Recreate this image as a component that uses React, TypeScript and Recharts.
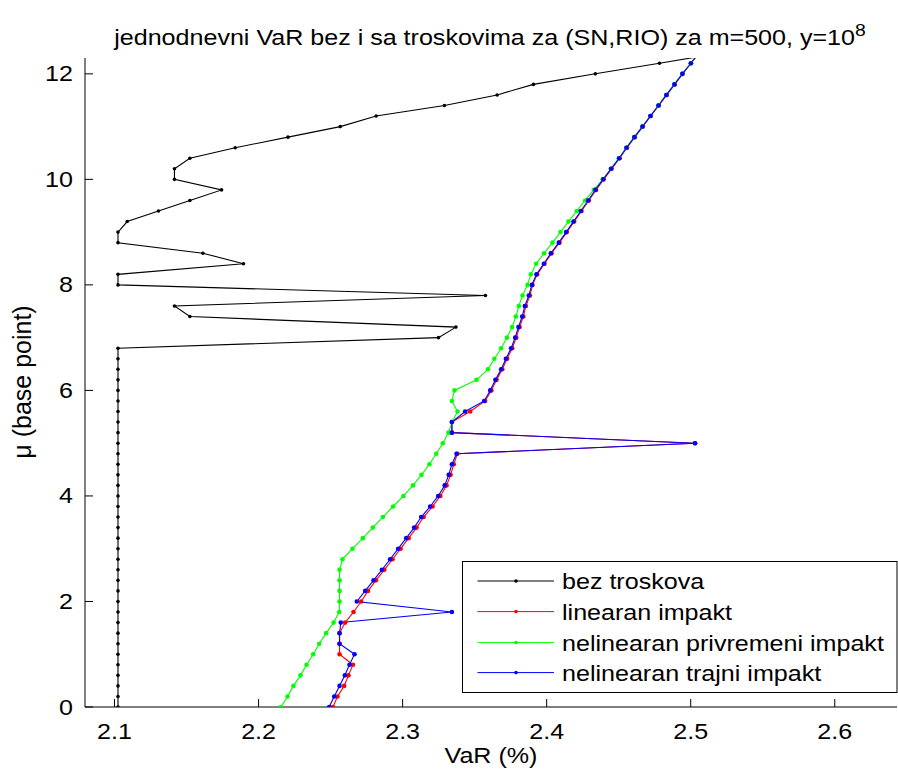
import { LineChart, Line, XAxis, YAxis, Legend } from 'recharts';

const MU = [
  0, 0.2, 0.4, 0.6, 0.8, 1, 1.2, 1.4, 1.6, 1.8, 2, 2.2, 2.4, 2.6, 2.8, 3, 3.2, 3.4, 3.6, 3.8,
  4, 4.2, 4.4, 4.6, 4.8, 5, 5.2, 5.4, 5.6, 5.8, 6, 6.2, 6.4, 6.6, 6.8, 7, 7.2, 7.4, 7.6, 7.8,
  8, 8.2, 8.4, 8.6, 8.8, 9, 9.2, 9.4, 9.6, 9.8, 10, 10.2, 10.4, 10.6, 10.8, 11, 11.2, 11.4, 11.6, 11.8,
  12, 12.2, 12.4,
];

const BEZ_TROSKOVA = [
  2.1024, 2.1024, 2.1024, 2.1024, 2.1024, 2.1024, 2.1024, 2.1024, 2.1024, 2.1024,
  2.1024, 2.1024, 2.1024, 2.1024, 2.1024, 2.1024, 2.1024, 2.1024, 2.1024, 2.1024,
  2.1024, 2.1024, 2.1024, 2.1024, 2.1024, 2.1024, 2.1024, 2.1024, 2.1024, 2.1024,
  2.1024, 2.1024, 2.1024, 2.1024, 2.1024, 2.3249, 2.3370, 2.1523, 2.1416, 2.3575,
  2.1024, 2.1024, 2.1895, 2.1614, 2.1024, 2.1024, 2.1088, 2.1305, 2.1523, 2.1743,
  2.1416, 2.1416, 2.1523, 2.1838, 2.2204, 2.2567, 2.2816, 2.3290, 2.3656, 2.3908,
  2.4338, 2.4783, 2.5218,
];

const LINEARAN = [
  2.2516, 2.2548, 2.2594, 2.2624, 2.2655, 2.2562, 2.2562, 2.2562, 2.2601, 2.2659,
  2.2712, 2.2760, 2.2815, 2.2873, 2.2930, 2.2986, 2.3042, 2.3097, 2.3146, 2.3208,
  2.3262, 2.3305, 2.3333, 2.3355, 2.3380, 2.5030, 2.3342, 2.3342, 2.3469, 2.3573,
  2.3616, 2.3652, 2.3692, 2.3725, 2.3761, 2.3789, 2.3812, 2.3838, 2.3856, 2.3884,
  2.3902, 2.3934, 2.3985, 2.4034, 2.4089, 2.4140, 2.4191, 2.4242, 2.4293, 2.4343,
  2.4396, 2.4451, 2.4507, 2.4558, 2.4612, 2.4668, 2.4723, 2.4779, 2.4834, 2.4889,
  2.4944, 2.5002, 2.5059,
];

const PRIVREMENI = [
  2.2155, 2.2201, 2.2242, 2.2291, 2.2333, 2.2379, 2.2421, 2.2469, 2.2521, 2.2560,
  2.2562, 2.2562, 2.2562, 2.2562, 2.2582, 2.2652, 2.2724, 2.2793, 2.2863, 2.2934,
  2.3006, 2.3072, 2.3131, 2.3186, 2.3233, 2.3279, 2.3318, 2.3344, 2.3381, 2.3342,
  2.3360, 2.3513, 2.3592, 2.3637, 2.3684, 2.3724, 2.3760, 2.3786, 2.3807, 2.3832,
  2.3867, 2.3890, 2.3927, 2.3982, 2.4040, 2.4096, 2.4151, 2.4209, 2.4267, 2.4327,
  2.4390, 2.4445, 2.4501, 2.4553, 2.4608, 2.4664, 2.4719, 2.4775, 2.4830, 2.4886,
  2.4942, 2.5001, 2.5058,
];

const TRAJNI = [
  2.2490, 2.2525, 2.2562, 2.2599, 2.2631, 2.2666, 2.2562, 2.2562, 2.2571, 2.3342,
  2.2682, 2.2740, 2.2798, 2.2856, 2.2913, 2.2969, 2.3025, 2.3080, 2.3129, 2.3191,
  2.3247, 2.3292, 2.3320, 2.3342, 2.3374, 2.5030, 2.3342, 2.3342, 2.3434, 2.3566,
  2.3608, 2.3644, 2.3684, 2.3717, 2.3753, 2.3781, 2.3804, 2.3830, 2.3848, 2.3876,
  2.3897, 2.3929, 2.3980, 2.4029, 2.4084, 2.4135, 2.4186, 2.4237, 2.4288, 2.4338,
  2.4392, 2.4447, 2.4503, 2.4554, 2.4609, 2.4665, 2.4720, 2.4776, 2.4831, 2.4887,
  2.4942, 2.5001, 2.5058,
];

const X_TICKS = [2.1, 2.2, 2.3, 2.4, 2.5, 2.6];
const Y_TICKS = [0, 2, 4, 6, 8, 10, 12];

const SERIES = [
  { key: 'bez', name: 'bez troskova', values: BEZ_TROSKOVA, color: '#000000', r: 1.8 },
  { key: 'lin', name: 'linearan impakt', values: LINEARAN, color: '#ff0000', r: 2.3 },
  { key: 'priv', name: 'nelinearan privremeni impakt', values: PRIVREMENI, color: '#00ff00', r: 2.3 },
  { key: 'traj', name: 'nelinearan trajni impakt', values: TRAJNI, color: '#0000ff', r: 2.3 },
];

const W = 898;
const H = 773;
const PLOT_LEFT = 85;
const PLOT_TOP = 58;
const PLOT_BOTTOM = 707;
const PLOT_RIGHT = 897;
const TICK_LEN = 8;
const FONT = '"Liberation Sans", Arial, Helvetica, sans-serif';
const FS = 22;
const SX = 1.14;

function Txt({ x, y, anchor = 'start', size = FS, children }: any) {
  return (
    <text
      transform={`translate(${x},${y}) scale(${SX},1)`}
      textAnchor={anchor}
      fontFamily={FONT}
      fontSize={size}
      fill="#000"
    >
      {children}
    </text>
  );
}

function BottomTick(props: any) {
  const { x, payload } = props;
  return (
    <g>
      <line x1={x} x2={x} y1={PLOT_BOTTOM} y2={PLOT_BOTTOM - TICK_LEN} stroke="#000" strokeWidth={1} />
      <Txt x={x} y={738.5} anchor="middle">{Number(payload.value).toFixed(1)}</Txt>
    </g>
  );
}

function TopTick(props: any) {
  const { x } = props;
  return <line x1={x} x2={x} y1={PLOT_TOP} y2={PLOT_TOP + TICK_LEN} stroke="#000" strokeWidth={1} />;
}

function LeftTick(props: any) {
  const { y, payload } = props;
  return (
    <g>
      <line x1={PLOT_LEFT} x2={PLOT_LEFT + TICK_LEN} y1={y} y2={y} stroke="#000" strokeWidth={1} />
      <Txt x={73} y={y + 7.5} anchor="end">{String(payload.value)}</Txt>
    </g>
  );
}

function LegendBox() {
  const rows = [20, 50.6, 81.6, 111.6];
  return (
    <svg width={436} height={133} style={{ display: 'block' }}>
      <rect x={0.5} y={0.5} width={434.5} height={131} fill="#fff" stroke="#000" strokeWidth={1} />
      {SERIES.map((s, i) => (
        <g key={s.key}>
          <line x1={15.5} x2={92} y1={rows[i]} y2={rows[i]} stroke={s.color} strokeWidth={1} />
          <circle cx={54} cy={rows[i]} r={1.8} fill={s.color} />
          <Txt x={100} y={rows[i] + 8.3}>{s.name}</Txt>
        </g>
      ))}
    </svg>
  );
}

export default function App() {
  return (
    <div style={{ position: 'absolute', left: 0, top: 0, width: W, height: H, background: '#fff' }}>
      <LineChart width={W} height={H} margin={{ top: PLOT_TOP, right: W - PLOT_RIGHT, bottom: 0, left: 0 }}>
        <XAxis
          xAxisId="top"
          orientation="top"
          type="number"
          dataKey="x"
          domain={[2.0795, 2.6432]}
          allowDataOverflow
          ticks={X_TICKS}
          height={0}
          tickLine={false}
          axisLine={{ stroke: '#000', strokeWidth: 1 }}
          tick={<TopTick />}
        />
        <XAxis
          type="number"
          dataKey="x"
          domain={[2.0795, 2.6432]}
          allowDataOverflow
          ticks={X_TICKS}
          height={H - PLOT_BOTTOM}
          tickLine={false}
          axisLine={{ stroke: '#000', strokeWidth: 1 }}
          tick={<BottomTick />}
          interval={0}
        />
        <YAxis
          type="number"
          dataKey="y"
          domain={[0, 12.3]}
          allowDataOverflow
          ticks={Y_TICKS}
          width={PLOT_LEFT}
          tickLine={false}
          axisLine={{ stroke: '#000', strokeWidth: 1 }}
          tick={<LeftTick />}
          interval={0}
        />
        <Legend
          layout="vertical"
          align="center"
          verticalAlign="middle"
          wrapperStyle={{ left: 462, top: 561, width: 436, height: 133 }}
          content={() => <LegendBox />}
        />
        {SERIES.map(s => (
          <Line
            key={s.key}
            name={s.name}
            data={MU.map((mu, i) => ({ x: s.values[i], y: mu }))}
            dataKey="y"
            type="linear"
            stroke={s.color}
            strokeWidth={1.1}
            dot={{ r: s.r, fill: s.color, stroke: 'none' }}
            activeDot={false}
            isAnimationActive={false}
          />
        ))}
      </LineChart>
      <svg
        width={W}
        height={H}
        style={{ position: 'absolute', left: 0, top: 0, pointerEvents: 'none' }}
      >
        <Txt x={490} y={45} anchor="middle">
          jednodnevni VaR bez i sa troskovima za (SN,RIO) za m=500, y=10
          <tspan dy={-9} fontSize={17}>8</tspan>
        </Txt>
        <Txt x={491} y={763} anchor="middle">VaR (%)</Txt>
        <text
          transform={`translate(31,382) rotate(-90)`}
          textAnchor="middle"
          fontFamily={FONT}
          fontSize={25}
          fill="#000"
        >
          μ (base point)
        </text>
      </svg>
    </div>
  );
}
